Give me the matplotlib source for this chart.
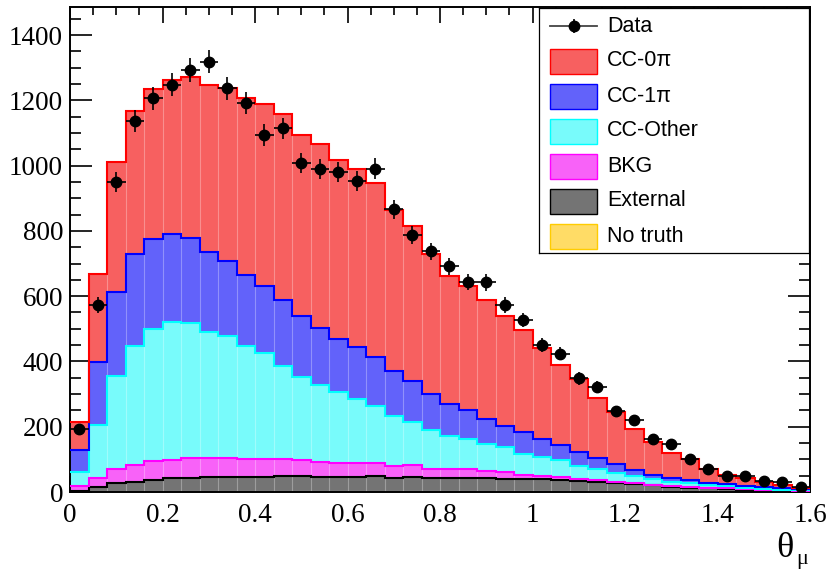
import numpy as np
import matplotlib
matplotlib.use('Agg')
import matplotlib.pyplot as plt
from matplotlib.patches import Rectangle
from matplotlib.ticker import MultipleLocator, FuncFormatter


# muon angle binning: 40 bins from 0 to 1.6 rad
edges = np.linspace(0.0, 1.6, 41)

data = [193, 573, 951, 1137, 1206, 1248, 1293, 1319, 1237, 1192,
        1093, 1114, 1008, 989, 981, 953, 991, 866, 787, 737,
        691, 644, 642, 573, 527, 451, 424, 348, 323, 247,
        220, 163, 147, 101, 72, 50, 50, 34, 30, 14]

# MC components, listed from the bottom of the stack upwards
external = [3, 15, 28, 32, 37, 42, 42, 45, 45, 47, 47, 50, 48, 45, 47, 45, 49, 44, 47, 44,
            42, 44, 42, 41, 39, 41, 38, 35, 32, 28, 25, 20, 16, 13, 11, 9, 7, 5, 4, 3]
bkg = [14, 29, 42, 50, 57, 56, 63, 60, 60, 54, 55, 51, 51, 47, 41, 43, 39, 36, 35, 26,
       28, 26, 21, 19, 13, 9, 9, 5, 5, 2, 2, 2, 2, 2, 2, 2, 2, 2, 1, 1]
cc_other = [44, 160, 285, 365, 404, 423, 412, 386, 373, 346, 323, 285, 254, 236, 218, 197, 175, 152, 134, 121,
            103, 92, 84, 77, 65, 56, 50, 41, 34, 27, 22, 17, 14, 12, 9, 7, 4, 2, 2, 1]
cc_1pi = [69, 195, 259, 282, 277, 268, 261, 245, 231, 219, 207, 202, 187, 176, 162, 160, 150, 138, 123, 108,
          97, 88, 78, 66, 66, 55, 46, 41, 33, 29, 19, 13, 12, 10, 5, 6, 5, 5, 4, 3]
cc_0pi = [85, 268, 397, 438, 461, 474, 495, 510, 528, 540, 558, 571, 553, 562, 549, 544, 534, 495, 475, 430,
          393, 380, 364, 337, 312, 280, 247, 223, 184, 158, 125, 101, 77, 64, 43, 28, 24, 18, 11, 3]
no_truth = [0] * 40

labels = ['CC-0\u03c0', 'CC-1\u03c0', 'CC-Other', 'BKG', 'External', 'No truth']
line_colors = ['#ff0000', '#0000ff', '#00ffff', '#ff00ff', '#000000', '#ffcc00']
fill_colors = ['#f76060', '#6262fa', '#78fbfb', '#f862f8', '#747474', '#ffdc66']

stack_order = [no_truth, external, bkg, cc_other, cc_1pi, cc_0pi]
stack_lc = line_colors[::-1]
stack_fc = fill_colors[::-1]

serif = 'Liberation Serif'
sans = 'Liberation Sans'

fig = plt.figure(figsize=(8.3, 5.71), dpi=100)
ax = fig.add_axes([70 / 830, 1 - 492 / 571, 740 / 830, 485 / 571])

# stacked MC histograms
bottom = np.zeros(40)
for vals, lc, fc in zip(stack_order, stack_lc, stack_fc):
    top = bottom + np.asarray(vals, dtype=float)
    if np.any(vals):
        ax.stairs(top, edges, baseline=bottom, fill=True, facecolor=fc, edgecolor='none', zorder=2)
        ax.stairs(top, edges, baseline=None, color=lc, lw=1.5, zorder=3)
    bottom = top

# faint seams between neighbouring filled bins
seam_top = np.minimum(bottom[:-1], bottom[1:])
ax.vlines(edges[1:-1], 0, seam_top, color='white', lw=0.8, alpha=0.3, zorder=2.5)

# data points with Poisson errors
centers = 0.5 * (edges[1:] + edges[:-1])
counts = np.asarray(data, dtype=float)
ax.errorbar(centers, counts, yerr=np.sqrt(counts), xerr=0.02, fmt='o', color='black',
            ms=7.5, elinewidth=1.2, capsize=0, zorder=5)

ax.set_xlim(0, 1.6)
ax.set_ylim(0, 1486)
ax.xaxis.set_major_locator(MultipleLocator(0.2))
ax.xaxis.set_minor_locator(MultipleLocator(0.05))
ax.yaxis.set_major_locator(MultipleLocator(200))
ax.yaxis.set_minor_locator(MultipleLocator(50))
ax.xaxis.set_major_formatter(FuncFormatter(lambda v, p: '%g' % round(v, 2)))
ax.tick_params(axis='both', which='both', direction='in', top=True, right=True, width=1.2)
ax.tick_params(axis='x', which='major', length=11.5, pad=8)
ax.tick_params(axis='x', which='minor', length=5.8)
ax.tick_params(axis='y', which='major', length=16, pad=5)
ax.tick_params(axis='y', which='minor', length=8)
for lab in ax.get_xticklabels() + ax.get_yticklabels():
    lab.set_fontfamily(serif)
    lab.set_fontsize(19.5)
for s in ax.spines.values():
    s.set_linewidth(1.4)

# axis title in the lower right corner
fig.text(776 / 830, 1 - 557 / 571, '\u03b8', fontfamily=serif, fontsize=26, ha='left', va='baseline')
fig.text(796 / 830, 1 - 564 / 571, '\u03bc', fontfamily=serif, fontsize=16, ha='left', va='baseline')

# legend box
leg = fig.add_axes([539 / 830, 1 - 253 / 571, 270 / 830, 245 / 571], zorder=10)
leg.set_xlim(0, 270)
leg.set_ylim(245, 0)
leg.set_xticks([])
leg.set_yticks([])
for s in leg.spines.values():
    s.set_linewidth(0.9)

row_y = [18, 53, 88, 123, 158, 193, 228]
leg.plot([11, 58], [row_y[0], row_y[0]], color='#444444', lw=1.3)
leg.plot([34.5, 34.5], [row_y[0] - 6, row_y[0] + 6], color='black', lw=1.3)
leg.plot([34.5], [row_y[0]], 'o', color='black', ms=7.5)
leg.text(68, row_y[0], 'Data', fontfamily=sans, fontsize=15.5, va='center', ha='left')
for y, lab, lc, fc in zip(row_y[1:], labels, line_colors, fill_colors):
    leg.add_patch(Rectangle((11, y - 12.5), 47, 25, facecolor=fc, edgecolor=lc, lw=1.0))
    leg.text(68, y, lab, fontfamily=sans, fontsize=15.5, va='center', ha='left')

fig.savefig('out.png', dpi=100)
